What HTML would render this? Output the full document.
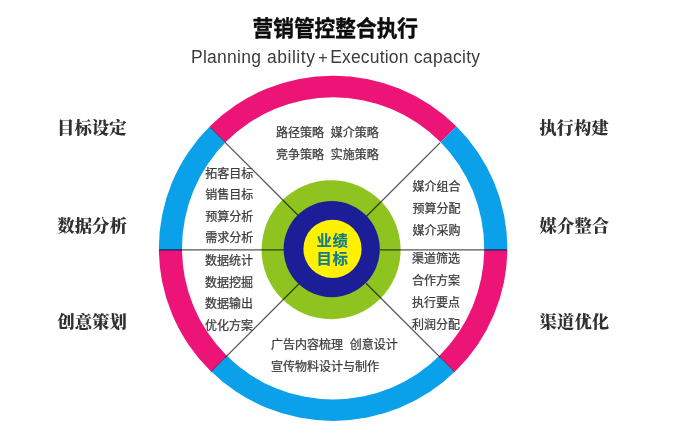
<!DOCTYPE html>
<html lang="zh-CN">
<head>
<meta charset="utf-8">
<title>营销管控整合执行</title>
<style>
html,body{margin:0;padding:0;background:#fff;}
body{width:700px;height:431px;overflow:hidden;position:relative;font-family:"Liberation Sans","Noto Sans CJK SC",sans-serif;}
svg{position:absolute;left:0;top:0;display:block;filter:blur(0.35px);}
.t{position:absolute;white-space:nowrap;line-height:1;}
.title{font-weight:bold;font-size:20.7px;color:#0c0c0c;transform-origin:0 50%;transform:scaleY(1.06);filter:blur(0.35px);-webkit-text-stroke:0.4px #0c0c0c;}
.sub{font-size:17.5px;color:#3c3c3c;filter:blur(0.4px);}
.lab{font-family:"Liberation Serif","Noto Serif CJK SC",serif;font-weight:900;font-size:17.4px;color:#303030;filter:blur(0.45px);}
.s{font-size:12px;color:#3c3c3c;filter:blur(0.45px);-webkit-text-stroke:0.25px #3c3c3c;}
.c{font-weight:bold;font-size:15.3px;color:#107c8c;letter-spacing:0.5px;filter:blur(0.3px);-webkit-text-stroke:0.2px #107c8c;}
</style>
</head>
<body>
<svg width="700" height="431" viewBox="0 0 700 431">
<defs><clipPath id="ring"><path clip-rule="evenodd" d="M158.85 248.3a174.25 172.6 0 1 0 348.5 0a174.25 172.6 0 1 0 -348.5 0ZM182.00 248.4a151.1 151.1 0 1 0 302.2 0a151.1 151.1 0 1 0 -302.2 0Z"/></clipPath></defs>
<g clip-path="url(#ring)">
<polygon points="332.8,250.0 615.6,-32.8 555.0,-82.6 485.9,-119.6 410.8,-142.3 332.8,-150.0 254.8,-142.3 179.7,-119.6 110.6,-82.6 50.0,-32.8" fill="#ec1477"/>
<polygon points="332.8,250.0 50.0,532.8 110.6,582.6 179.7,619.6 254.8,642.3 332.8,650.0 410.8,642.3 485.9,619.6 555.0,582.6 615.6,532.8" fill="#0ba1ea"/>
<polygon points="332.8,250.0 50.0,-32.8 -100.0,-32.8 -100.0,249.9 332.8,249.9" fill="#0ba1ea"/>
<polygon points="332.8,249.9 -100.0,249.9 -100.0,532.8 50.0,532.8 332.8,250.0" fill="#ec1477"/>
<polygon points="332.8,250.0 615.6,-32.8 800.0,-32.8 800.0,249.9 332.8,249.9" fill="#0ba1ea"/>
<polygon points="332.8,249.9 800.0,249.9 800.0,532.8 615.6,532.8 332.8,250.0" fill="#ec1477"/>
</g>
<circle cx="331.1" cy="249.7" r="69.5" fill="#8fc31f"/>
<g stroke="#555555" stroke-width="1.3" style="mix-blend-mode:multiply"><line x1="366.03" y1="216.77" x2="440.21" y2="142.59"/><line x1="299.57" y1="216.77" x2="225.39" y2="142.59"/><line x1="299.57" y1="283.23" x2="225.39" y2="357.41"/><line x1="366.03" y1="283.23" x2="440.21" y2="357.41"/><line x1="181.50" y1="249.9" x2="285.80" y2="249.9"/><line x1="379.80" y1="249.9" x2="484.70" y2="249.9"/></g>
<g stroke="#777" stroke-width="1" style="mix-blend-mode:multiply"><line x1="225.39" y1="142.59" x2="210.44" y2="127.64"/><line x1="225.39" y1="357.41" x2="210.44" y2="372.36"/><line x1="440.21" y1="357.41" x2="455.16" y2="372.36"/></g>
<g stroke="#0c1c50" stroke-width="1.3" opacity="0.85"><line x1="159.25" y1="249.9" x2="182.00" y2="249.9"/><line x1="484.20" y1="249.9" x2="506.95" y2="249.9"/></g>
<circle cx="331.7" cy="249.1" r="48.1" fill="#1c1e98"/>
<circle cx="332.5" cy="248.9" r="29.1" fill="#fff100"/>
</svg>
<div class="t title" style="left:252.5px;top:19.3px;">营销管控整合执行</div>
<div class="t sub" style="left:191px;top:49px;letter-spacing:0.25px">Planning</div>
<div class="t sub" style="left:267px;top:49px;letter-spacing:0.53px">ability</div>
<div class="t sub" style="left:330.2px;top:49px;letter-spacing:0.17px">Execution</div>
<div class="t sub" style="left:413.8px;top:49px;letter-spacing:0.3px">capacity</div>
<div class="t sub" style="left:318.2px;top:50.4px;font-size:16px">+</div>
<div class="t lab" style="left:57px;top:120.2px;">目标设定</div>
<div class="t lab" style="left:57.3px;top:217.9px;">数据分析</div>
<div class="t lab" style="left:57.3px;top:314.2px;">创意策划</div>
<div class="t lab" style="left:539.2px;top:120.2px;">执行构建</div>
<div class="t lab" style="left:539.6px;top:217.9px;">媒介整合</div>
<div class="t lab" style="left:539.6px;top:314.2px;">渠道优化</div>
<div class="t s" style="left:276px;top:126.8px;">路径策略&nbsp; 媒介策略</div>
<div class="t s" style="left:276px;top:148.6px;">竞争策略&nbsp; 实施策略</div>
<div class="t s" style="left:205.3px;top:168px;">拓客目标</div>
<div class="t s" style="left:205.3px;top:188.8px;">销售目标</div>
<div class="t s" style="left:205.3px;top:210.6px;">预算分析</div>
<div class="t s" style="left:205.3px;top:231.8px;">需求分析</div>
<div class="t s" style="left:205px;top:254.6px;">数据统计</div>
<div class="t s" style="left:205px;top:276.6px;">数据挖掘</div>
<div class="t s" style="left:205px;top:298.4px;">数据输出</div>
<div class="t s" style="left:205px;top:319.6px;">优化方案</div>
<div class="t s" style="left:412.5px;top:181px;">媒介组合</div>
<div class="t s" style="left:412.5px;top:203px;">预算分配</div>
<div class="t s" style="left:412.5px;top:224.7px;">媒介采购</div>
<div class="t s" style="left:412px;top:253.4px;">渠道筛选</div>
<div class="t s" style="left:412px;top:275px;">合作方案</div>
<div class="t s" style="left:412px;top:297px;">执行要点</div>
<div class="t s" style="left:412px;top:318.6px;">利润分配</div>
<div class="t s" style="left:271px;top:339.2px;">广告内容梳理&nbsp; 创意设计</div>
<div class="t s" style="left:271px;top:360.5px;">宣传物料设计与制作</div>
<div class="t c" style="left:316.6px;top:233.2px;">业绩</div>
<div class="t c" style="left:316.6px;top:250.6px;">目标</div>
</body>
</html>
